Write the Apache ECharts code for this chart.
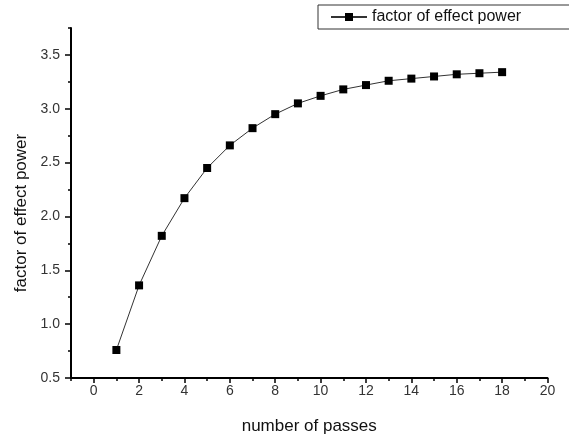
<!DOCTYPE html>
<html>
<head>
<meta charset="utf-8">
<script src="https://cdn.jsdelivr.net/npm/echarts@6/dist/echarts.min.js"></script>
<style>
html,body{margin:0;padding:0;background:#fff;}
#chart{width:569px;height:434px;}
</style>
</head>
<body>
<div id="chart"></div>
<script>
var seriesName = 'factor of effect power';
var passes = [1, 2, 3, 4, 5, 6, 7, 8, 9, 10, 11, 12, 13, 14, 15, 16, 17, 18];
var factor = [0.76, 1.36, 1.82, 2.17, 2.45, 2.66, 2.82, 2.95, 3.05, 3.12, 3.18, 3.22, 3.26, 3.28, 3.30, 3.32, 3.33, 3.34];
var xTickLabels = [0, 2, 4, 6, 8, 10, 12, 14, 16, 18, 20];
var xMinorTicks = [-1, 1, 3, 5, 7, 9, 11, 13, 15, 17, 19];
var yTickLabels = [0.5, 1.0, 1.5, 2.0, 2.5, 3.0, 3.5];
var yMinorTicks = [0.75, 1.25, 1.75, 2.25, 2.75, 3.25, 3.75];
var xTitle = 'number of passes';
var yTitle = 'factor of effect power';

var chart = echarts.init(document.getElementById('chart'), null, {renderer: 'canvas'});
var font = 'Liberation Sans, Arial, sans-serif';
var points = passes.map(function (p, i) { return [p, factor[i]]; });

var option = {
  backgroundColor: '#ffffff',
  animation: false,
  grid: {left: 71, right: 21.5, top: 28, bottom: 56, containLabel: false, outerBoundsMode: 'none'},
  legend: {
    data: [seriesName],
    left: 318, top: 5,
    padding: [4, 70, 4, 12],
    borderColor: '#333', borderWidth: 1,
    itemWidth: 36, itemHeight: 10, itemGap: 5,
    textStyle: {fontFamily: font, fontSize: 16, color: '#111'}
  },
  xAxis: [{
    type: 'value', min: -1, max: 20, gridIndex: 0, position: 'bottom',
    name: xTitle, nameLocation: 'middle', nameGap: 40,
    nameTextStyle: {fontFamily: font, fontSize: 17, color: '#111'},
    axisLine: {show: true, onZero: false, lineStyle: {color: '#000', width: 2}},
    axisTick: {show: true, inside: false, length: 5, customValues: xTickLabels, lineStyle: {color: '#000', width: 1.5}},
    axisLabel: {show: true, margin: 6, customValues: xTickLabels, fontFamily: font, fontSize: 14, color: '#333',
      formatter: function (v) { return String(v); }},
    splitLine: {show: false}
  }, {
    type: 'value', min: -1, max: 20, gridIndex: 0, position: 'bottom',
    axisLine: {show: false, onZero: false},
    axisTick: {show: true, inside: false, length: 3, customValues: xMinorTicks, lineStyle: {color: '#000', width: 1.5}},
    axisLabel: {show: false},
    splitLine: {show: false}
  }],
  yAxis: [{
    type: 'value', min: 0.5, max: 3.75, gridIndex: 0, position: 'left',
    name: yTitle, nameLocation: 'middle', nameGap: 39, nameRotate: 90,
    nameTextStyle: {fontFamily: font, fontSize: 17, color: '#111', padding: [0, 20, 0, 0]},
    axisLine: {show: true, onZero: false, lineStyle: {color: '#000', width: 2}},
    axisTick: {show: true, inside: false, length: 6, customValues: yTickLabels, lineStyle: {color: '#000', width: 1.5}},
    axisLabel: {show: true, margin: 11, customValues: yTickLabels, fontFamily: font, fontSize: 14, color: '#333',
      formatter: function (v) { return v.toFixed(1); }},
    splitLine: {show: false}
  }, {
    type: 'value', min: 0.5, max: 3.75, gridIndex: 0, position: 'left',
    axisLine: {show: false, onZero: false},
    axisTick: {show: true, inside: false, length: 3, customValues: yMinorTicks, lineStyle: {color: '#000', width: 1.5}},
    axisLabel: {show: false},
    splitLine: {show: false}
  }],
  series: [{
    name: seriesName,
    type: 'line',
    xAxisIndex: 0, yAxisIndex: 0,
    data: points,
    symbol: 'rect', symbolSize: 8,
    itemStyle: {color: '#000'},
    lineStyle: {color: '#333', width: 1},
    emphasis: {disabled: true}
  }]
};
chart.setOption(option);
</script>
</body>
</html>
